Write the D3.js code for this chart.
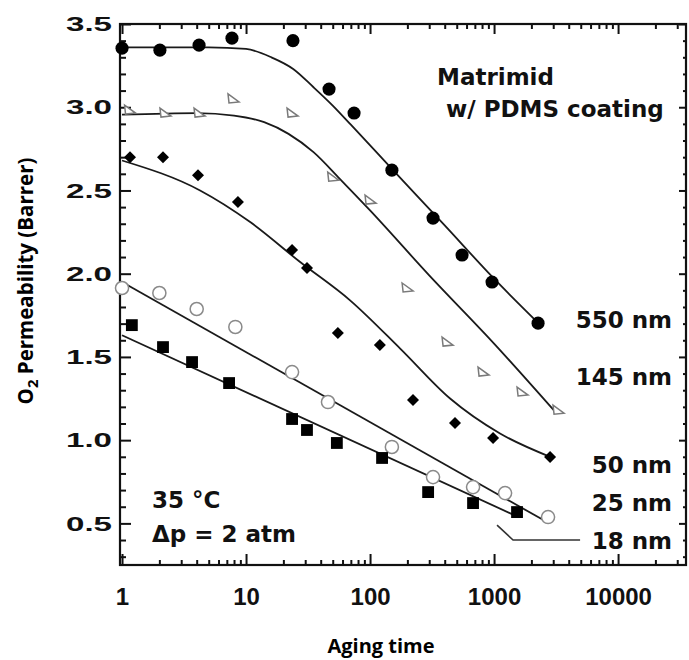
<!DOCTYPE html>
<html>
<head>
<meta charset="utf-8">
<script src="https://cdn.jsdelivr.net/npm/d3@7"></script>
<style>
  body { margin: 0; background: #fff; }
  svg { display: block; }
</style>
</head>
<body>
<div id="chart"></div>
<script>
// aging time (log axis) vs O2 permeability (Barrer), one pair of arrays per film thickness
const t550 = [1, 2.02, 4.18, 7.7, 23.9, 46.7, 74.3, 150, 322, 552, 963, 2264];
const p550 = [3.355, 3.343, 3.373, 3.415, 3.40, 3.109, 2.965, 2.622, 2.334, 2.112, 1.95, 1.703];
const t145 = [1.15, 2.22, 4.18, 7.85, 23.5, 50, 100, 199, 418, 815, 1682, 3280];
const p145 = [2.983, 2.965, 2.965, 3.05, 2.965, 2.58, 2.442, 1.914, 1.589, 1.409, 1.289, 1.18];
const t50 = [1.16, 2.14, 4.1, 8.6, 23.5, 31, 55, 120, 222, 484, 982, 2830];
const p50 = [2.70, 2.70, 2.592, 2.43, 2.142, 2.034, 1.643, 1.571, 1.241, 1.103, 1.013, 0.899];
const t25 = [1.0, 2.0, 4.0, 8.2, 23.5, 45.8, 150, 322, 677, 1227, 2725];
const p25 = [1.914, 1.884, 1.788, 1.68, 1.409, 1.229, 0.959, 0.778, 0.718, 0.682, 0.538];
const t18 = [1.2, 2.14, 3.67, 7.3, 23.5, 31, 54, 125, 294, 677, 1532];
const p18 = [1.691, 1.559, 1.469, 1.343, 1.127, 1.061, 0.983, 0.893, 0.688, 0.622, 0.568];

// fitted curves
const fit550T = [1, 5, 10, 16, 24, 35, 50, 70, 150, 400, 1000, 2300];
const fit550P = [3.36, 3.36, 3.35, 3.30, 3.23, 3.12, 3.01, 2.895, 2.63, 2.29, 1.97, 1.70];
const fit145T = [1, 4, 8, 14, 22, 35, 57, 100, 300, 1000, 3200];
const fit145P = [2.955, 2.965, 2.95, 2.91, 2.84, 2.73, 2.57, 2.38, 1.99, 1.58, 1.16];
const fit50T = [1, 4.26, 10.8, 27.3, 69, 175, 442, 1117, 2830];
const fit50P = [2.68, 2.50, 2.31, 2.07, 1.84, 1.55, 1.25, 1.04, 0.90];
const fit25T = [1, 2500];
const fit25P = [1.95, 0.52];
const fit18T = [1, 1450];
const fit18P = [1.63, 0.55];

// leader from the 18 nm line to its label
const leaderT = [1057, 1423, 4940];
const leaderP = [0.49, 0.40, 0.40];

const xTicks = [1, 10, 100, 1000, 10000];
const yTicks = [0.5, 1.0, 1.5, 2.0, 2.5, 3.0, 3.5];
const seriesNames = ["550 nm", "145 nm", "50 nm", "25 nm", "18 nm"];

const width = 689, height = 660;
const plotL = 120, plotR = 686, plotT = 24, plotB = 565;

const svg = d3.select("#chart").append("svg")
  .attr("width", width)
  .attr("height", height)
  .style("background", "#fff");

const x = d3.scaleLog().domain([0.963, 35300]).range([plotL, plotR]);
const y = d3.scaleLinear().domain([0.25, 3.5]).range([plotB, plotT]);

const xMinor = d3.range(0, 5)
  .flatMap(e => d3.range(2, 10).map(k => k * 10 ** e))
  .filter(v => v < x.domain()[1]);
const yMinor = d3.range(3, 35).map(k => k / 10).filter(v => Math.round(v * 10) % 5 !== 0);

const tickFont = "'Liberation Sans', Arial, sans-serif";
const annFont = "'DejaVu Sans', sans-serif";

function styleAxis(g) {
  g.select(".domain").remove();
  g.selectAll("line").attr("stroke", "#111").attr("stroke-width", 2);
}

// bottom
svg.append("g").attr("transform", `translate(0,${plotB})`)
  .call(d3.axisBottom(x).tickValues(xMinor).tickSize(-5).tickFormat(""))
  .call(styleAxis);
svg.append("g").attr("transform", `translate(0,${plotB})`)
  .call(d3.axisBottom(x).tickValues(xTicks).tickSize(-11).tickPadding(23).tickFormat(d3.format("d")))
  .call(styleAxis)
  .selectAll("text")
  .attr("fill", "#111")
  .style("font-family", tickFont)
  .style("font-weight", "bold")
  .style("font-size", "24px");

// top
svg.append("g").attr("transform", `translate(0,${plotT})`)
  .call(d3.axisTop(x).tickValues(xMinor).tickSize(-5).tickFormat(""))
  .call(styleAxis);
svg.append("g").attr("transform", `translate(0,${plotT})`)
  .call(d3.axisTop(x).tickValues(xTicks).tickSize(-10).tickFormat(""))
  .call(styleAxis);

// left
svg.append("g").attr("transform", `translate(${plotL},0)`)
  .call(d3.axisLeft(y).tickValues(yMinor).tickSize(-6).tickFormat(""))
  .call(styleAxis);
svg.append("g").attr("transform", `translate(${plotL},0)`)
  .call(d3.axisLeft(y).tickValues(yTicks).tickSize(-11).tickPadding(8).tickFormat(d3.format(".1f")))
  .call(styleAxis)
  .selectAll("text")
  .attr("fill", "#111")
  .attr("textLength", 46)
  .attr("lengthAdjust", "spacingAndGlyphs")
  .style("font-family", tickFont)
  .style("font-weight", "bold")
  .style("font-size", "21px");

// right
svg.append("g").attr("transform", `translate(${plotR},0)`)
  .call(d3.axisRight(y).tickValues(yMinor).tickSize(-3).tickFormat(""))
  .call(styleAxis);
svg.append("g").attr("transform", `translate(${plotR},0)`)
  .call(d3.axisRight(y).tickValues(yTicks).tickSize(-7).tickFormat(""))
  .call(styleAxis);

// frame
svg.append("rect")
  .attr("x", plotL).attr("y", plotT)
  .attr("width", plotR - plotL).attr("height", plotB - plotT)
  .attr("fill", "none").attr("stroke", "#111").attr("stroke-width", 2.2);

// fit lines
const line = d3.line()
  .x(d => x(d[0]))
  .y(d => y(d[1]))
  .curve(d3.curveMonotoneX);

const fits = [
  [fit550T, fit550P], [fit145T, fit145P], [fit50T, fit50P], [fit25T, fit25P], [fit18T, fit18P]
];
svg.append("g").selectAll("path")
  .data(fits)
  .join("path")
  .attr("d", f => line(d3.zip(f[0], f[1])))
  .attr("fill", "none")
  .attr("stroke", "#1a1a1a")
  .attr("stroke-width", 1.8);

svg.append("path")
  .attr("d", d3.line().x(d => x(d[0])).y(d => y(d[1]))(d3.zip(leaderT, leaderP)))
  .attr("fill", "none")
  .attr("stroke", "#333")
  .attr("stroke-width", 1.6);

// markers
const triShape = "M-5,-5L6,3L-4,4Z";
const diamondShape = "M0,-6L6,0L0,6L-6,0Z";
const markers = [
  { t: t550, p: p550, d: d3.symbol(d3.symbolCircle, 135)(), fill: "#000", stroke: "none" },
  { t: t145, p: p145, d: triShape, fill: "#fff", stroke: "#7a7a7a" },
  { t: t50, p: p50, d: diamondShape, fill: "#000", stroke: "none" },
  { t: t25, p: p25, d: d3.symbol(d3.symbolCircle, 135)(), fill: "#fff", stroke: "#8a8a8a" },
  { t: t18, p: p18, d: d3.symbol(d3.symbolSquare, 140)(), fill: "#000", stroke: "none" }
];
markers.forEach(m => {
  svg.append("g").selectAll("path")
    .data(d3.zip(m.t, m.p))
    .join("path")
    .attr("transform", d => `translate(${x(d[0])},${y(d[1])})`)
    .attr("d", m.d)
    .attr("fill", m.fill)
    .attr("stroke", m.stroke)
    .attr("stroke-width", 1.5);
});

// text
function label(txt, xp, yp, anchor) {
  return svg.append("text")
    .attr("x", xp).attr("y", yp)
    .attr("text-anchor", anchor || "start")
    .attr("fill", "#111")
    .style("font-family", annFont)
    .style("font-weight", "bold")
    .style("font-size", "23px")
    .text(txt);
}

label("Matrimid", 437, 85);
label("w/ PDMS coating", 446, 117);
label("35 °C", 152, 508);
label("Δp = 2 atm", 152, 542);

const seriesLabelY = [328, 385, 473, 511, 549];
seriesNames.forEach((s, i) => label(s, 672, seriesLabelY[i], "end"));

// axis titles
svg.append("text")
  .attr("x", 381).attr("y", 653)
  .attr("text-anchor", "middle")
  .style("font-family", "'Open Sans', sans-serif")
  .style("font-weight", "bold")
  .style("font-size", "20px")
  .text("Aging time");

const yt = svg.append("text")
  .attr("transform", "translate(33,281) rotate(-90)")
  .attr("text-anchor", "middle")
  .style("font-family", "'Open Sans', sans-serif")
  .style("font-weight", "bold")
  .style("font-size", "20.5px");
yt.append("tspan").text("O");
yt.append("tspan").attr("dy", 5).style("font-size", "15px").text("2");
yt.append("tspan").attr("dy", -5).text(" Permeability (Barrer)");
</script>
</body>
</html>
